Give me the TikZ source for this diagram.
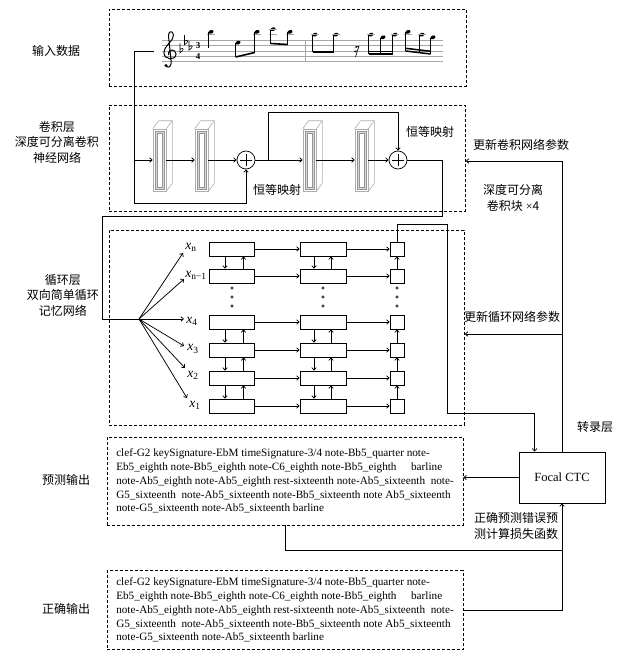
\documentclass[tikz,border=0pt]{standalone}
\usepackage{fontspec}
\setmainfont{Liberation Serif}
\newfontfamily\cjk{Noto Sans CJK SC}
\usetikzlibrary{arrows.meta,calc}
\newcommand\seqlines{clef-G2 keySignature-EbM timeSignature-3/4 note-Bb5\_quarter note-\\
Eb5\_eighth note-Bb5\_eighth note-C6\_eighth note-Bb5\_eighth\hspace{1.3em}barline\\
note-Ab5\_eighth note-Ab5\_eighth rest-sixteenth note-Ab5\_sixteenth\hspace{0.5em}note-\\
G5\_sixteenth\hspace{0.5em}note-Ab5\_sixteenth note-Bb5\_sixteenth note Ab5\_sixteenth\\
note-G5\_sixteenth note-Ab5\_sixteenth barline}
\newcommand\nh[2]{\fill[rotate around={20:(#1,#2)}] (#1,#2) ellipse [x radius=2.6pt,y radius=1.8pt];}
\newcommand\stemd[3]{\draw[line width=0.55pt] (#1-2.3,#2) -- (#1-2.3,#3);}
\newcommand\ledger[2]{\draw[draw=gray!70,line width=0.45pt] (#1-3.8,#2) -- (#1+3.8,#2);}
\newcommand\flatsign[2]{\draw[line width=0.6pt] (#1,#2-7.5) -- (#1,#2+2) .. controls (#1+4.5,#2-0.5) and (#1+4,#2-4) .. (#1,#2-1.5);}
\begin{document}
\begin{tikzpicture}[x=1pt,y=-1pt,line width=0.75pt,
 arr/.style={-{Straight Barb[length=2.5pt,width=4.5pt]}},
 dbox/.style={draw,dash pattern=on 3pt off 2pt,line width=0.8pt,inner sep=0pt,anchor=north west},
 lab/.style={font=\cjk\fontsize{12}{15.5}\selectfont,align=center,inner sep=0pt},
 blk/.style={draw=gray!65,line width=0.6pt,minimum width=13pt,minimum height=62pt,inner sep=0pt},
 blkline/.style={draw=gray!65,line width=0.6pt},
 sum/.style={circle,draw,minimum size=18pt,inner sep=0pt,
   path picture={\draw[line width=0.6pt] ([xshift=-6pt]path picture bounding box.center)--([xshift=6pt]path picture bounding box.center) ([yshift=-6pt]path picture bounding box.center)--([yshift=6pt]path picture bounding box.center);}},
 cell/.style={draw,minimum width=45pt,minimum height=14pt,inner sep=0pt},
 scell/.style={draw,minimum width=14pt,minimum height=14pt,inner sep=0pt},
 seq/.style={draw,dash pattern=on 3pt off 2pt,line width=0.8pt,minimum width=356pt,align=left,font=\fontsize{11.2}{13.8}\selectfont},
 xl/.style={font=\fontsize{13.5}{13.5}\selectfont,inner sep=0pt,anchor=west},
 staffl/.style={draw=gray!70,line width=0.5pt}]
\useasboundingbox (0,0) rectangle (622,651);

% ---------- boxes ----------
\node[dbox,minimum width=357pt,minimum height=77pt] (inbox) at (109,9) {};
\node[dbox,minimum width=356pt,minimum height=106pt] (convbox) at (109,105) {};
\node[dbox,minimum width=355pt,minimum height=195pt] (rnnbox) at (109,230) {};
\node[seq,minimum height=88pt] (predbox) at (285,481) {\seqlines};
\node[seq,minimum height=79pt] (corrbox) at (285,610) {\seqlines};
\node[draw,minimum width=86pt,minimum height=51pt,font=\fontsize{12.5}{14}\selectfont] (focal) at (562,477.5) {Focal CTC};

% ---------- labels ----------
\node[lab] (lin) at (56,51) {输入数据};
\node[lab] (lconv) at (57,142) {卷积层\\深度可分离卷积\\神经网络};
\node[lab] (lrnn) at (63,295) {循环层\\双向简单循环\\记忆网络};
\node[lab] (lpred) at (66,480) {预测输出};
\node[lab] (lcorr) at (66,609) {正确输出};
\node[lab] (id1) at (277,190) {恒等映射};
\node[lab] (id2) at (430,132) {恒等映射};
\node[lab] (upconv) at (521,145) {更新卷积网络参数};
\node[lab] (dsc) at (513,198) {深度可分离\\卷积块{\rmfamily\ ×}4};
\node[lab] (uprnn) at (512,317) {更新循环网络参数};
\node[lab] (trans) at (595,427) {转录层};
\node[lab] (loss) at (516,526) {正确预测错误预\\测计算损失函数};

% ---------- staff ----------
\foreach \i in {0,...,4} \draw[staffl] (162,40+5.4*\i) -- (443,40+5.4*\i);
\draw[staffl] (305,40) -- (305,61.6);
\fill (166,65.5) circle [radius=1.6pt];
\draw[line width=1pt] (166,66) .. controls (169,69) and (172,66) .. (171,60) -- (168.5,36) .. controls (168,31) and (173,30) .. (173.5,35) .. controls (174,41) and (164,45) .. (164,53) .. controls (164,60) and (176,61) .. (176,54) .. controls (176,49) and (168,48) .. (168.5,55);
\flatsign{180}{50.8}\flatsign{184.5}{42.7}\flatsign{189}{48.1}
\node[font=\bfseries\fontsize{9}{9}\selectfont,inner sep=0pt] (ts3) at (198,45.3) {3};
\node[font=\bfseries\fontsize{9}{9}\selectfont,inner sep=0pt] (ts4) at (198,56.1) {4};
\nh{211}{31.9}\ledger{211}{34.6}\stemd{211}{32}{48}
\nh{238}{42.7}\stemd{238}{43}{57}
\nh{257}{31.9}\ledger{257}{34.6}\stemd{257}{32}{52.5}
\draw[line width=1.6pt] (235.7,57) -- (254.7,52.5);
\nh{273}{29.2}\ledger{273}{34.6}\ledger{273}{29.2}\stemd{273}{29.5}{43.5}
\nh{290}{31.9}\ledger{290}{34.6}\stemd{290}{32}{44.5}
\draw[line width=1.6pt] (270.7,43.5) -- (287.7,44.5);
\nh{315}{34.6}\ledger{315}{34.6}\stemd{315}{35}{52}
\nh{336}{34.6}\ledger{336}{34.6}\stemd{336}{35}{52}
\draw[line width=1.6pt] (312.7,52) -- (333.7,52);
\fill (356,47) circle [radius=1pt];
\fill (355,51.5) circle [radius=1pt];
\draw[line width=0.6pt] (359,46) -- (355.5,57) (356,47) -- (358.8,46.3) (355,51.5) -- (357.6,50.6);
\nh{371}{34.6}\ledger{371}{34.6}\stemd{371}{35}{54}
\nh{383}{37.3}\stemd{383}{37.5}{54}
\nh{395}{34.6}\ledger{395}{34.6}\stemd{395}{35}{54}
\draw[line width=1.5pt] (368.7,54) -- (392.7,54) (368.7,51.3) -- (392.7,51.3);
\nh{408}{31.9}\ledger{408}{34.6}\stemd{408}{32}{51}
\nh{422}{34.6}\ledger{422}{34.6}\stemd{422}{35}{52.5}
\nh{433}{37.3}\stemd{433}{37.5}{54}
\draw[line width=1.5pt] (405.7,51) -- (430.7,54) (405.7,48.3) -- (430.7,51.3);

% ---------- conv blocks ----------
\foreach \b/\x in {b1/159.5,b2/201.5,b3/309.5,b4/361.5} {
  \node[blk] (\b) at (\x,160) {};
  \draw[blkline] (\b.north west) -- ++(6,-8) -- ($(\b.north east)+(6,-8)$) -- ($(\b.south east)+(6,-8)$) -- (\b.south east);
  \draw[blkline] (\b.north east) -- ++(6,-8);
  \draw[draw=gray!85,line width=0.5pt,fill=gray!30] ([shift={(2.5,2.5)}]\b.north west) rectangle ([shift={(-2.5,-2.5)}]\b.south east);
  \draw[draw=gray!85,line width=0.5pt,fill=white] ([shift={(4.5,4.5)}]\b.north west) rectangle ([shift={(-4.5,-4.5)}]\b.south east);
}
\node[sum] (p1) at (246,160) {};
\node[sum] (p2) at (398,160) {};

\coordinate (staffin) at (154,51);
\coordinate (split1) at (134,160);
\coordinate (s1b) at (134,203);
\coordinate (split2) at (268,160);
\coordinate (s2t) at (268,112);
\coordinate (o1) at (442,216);
\coordinate (o2) at (102,319);
\coordinate (fan) at (139,319);
\coordinate (q1) at (447,224);
\coordinate (q2) at (447,413);
\coordinate (fin) at ($(focal.north west)+(16,0)$);
\coordinate (u1) at (562,161);
\coordinate (u2) at (562,334);
\coordinate (v1) at (562,550);

\draw[arr] (staffin) -| (split1) -- (b1.west);
\draw[arr] (split1) -- (s1b) -| (p1.south);
\draw[arr] (b1.east) -- (b2.west);
\draw[arr] (b2.east) -- (p1.west);
\draw[arr] (p1.east) -- (b3.west);
\draw[arr] (split2) -- (s2t) -| (p2.north);
\draw[arr] (b3.east) -- (b4.west);
\draw[arr] (b4.east) -- (p2.west);
\draw (p2.east) -| (o1) -| (o2) -- (fan);

% ---------- RNN ----------
\foreach \r/\y in {n/249,m/276,d/322,c/350,b/378,a/406} {
  \node[cell] (A\r) at (231.5,\y) {};
  \node[cell,minimum width=46pt] (B\r) at (323,\y) {};
  \node[scell] (C\r) at (397,\y) {};
  \draw[arr] (A\r.east) -- (B\r.west);
  \draw[arr] (B\r.east) -- (C\r.west);
}
\foreach \u/\l in {n/m,d/c,c/b,b/a} {
  \draw[arr] ([xshift=-6.5pt]A\u.south) -- ([xshift=-6.5pt]A\l.north);
  \draw[arr] ([xshift=12pt]A\l.north) -- ([xshift=12pt]A\u.south);
  \draw[arr] ([xshift=-9pt]B\u.south) -- ([xshift=-9pt]B\l.north);
  \draw[arr] ([xshift=8pt]B\l.north) -- ([xshift=8pt]B\u.south);
  \draw[arr] (C\l.north) -- (C\u.south);
}
\foreach \x in {232,323,397} \foreach \y in {288,297,306} \draw[line width=0.5pt] (\x,\y) circle [radius=1.2pt];

\node[xl] (xn) at (185,247) {\textit{x}\textsubscript{n}};
\node[xl] (xm) at (185,275) {\textit{x}\textsubscript{n−1}};
\node[xl] (x4) at (186,321) {\textit{x}\textsubscript{4}};
\node[xl] (x3) at (187,349) {\textit{x}\textsubscript{3}};
\node[xl] (x2) at (187,375) {\textit{x}\textsubscript{2}};
\node[xl] (x1) at (189,405) {\textit{x}\textsubscript{1}};
\coordinate (tn) at (183,253);
\coordinate (tm) at (184,279);
\coordinate (t4) at (184,319);
\coordinate (t3) at (184,346);
\coordinate (t2) at (185,368);
\coordinate (t1) at (187,398);
\foreach \t in {tn,tm,t4,t3,t2,t1} \draw[arr] (fan) -- (\t);

% ---------- output / CTC ----------
\draw[arr] (Cn.north) |- (q1) -- (q2) -| (fin);
\draw[arr] (focal.north) -- (u1) -- (u1 -| convbox.east);
\draw[arr] (u2) -- (u2 -| rnnbox.east);
\draw[arr] (focal.west) -- (focal.west -| predbox.east);
\draw (predbox.south) |- (v1);
\draw[arr] (corrbox.east) -| (focal.south);
\end{tikzpicture}
\end{document}
